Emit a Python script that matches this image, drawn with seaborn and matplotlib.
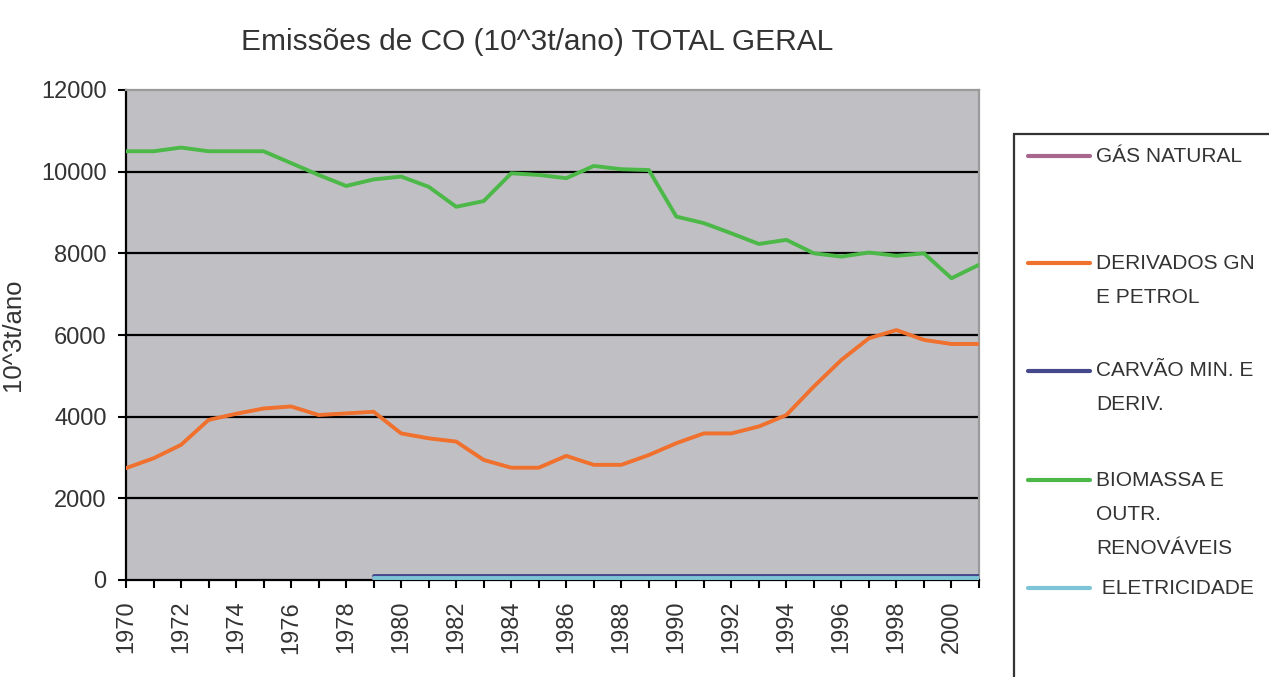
import pandas as pd
import matplotlib.pyplot as plt
from matplotlib.lines import Line2D
from matplotlib.patches import Rectangle
import seaborn as sns

# dados (10^3 t/ano)
anos = list(range(1970, 2002))
biomassa = [10500, 10500, 10590, 10500, 10500, 10500, 10210, 9920, 9650, 9810,
            9880, 9630, 9140, 9280, 9960, 9920, 9840, 10140, 10060, 10040,
            8900, 8740, 8490, 8230, 8330, 8000, 7920, 8020, 7940, 8000,
            7390, 7720]
derivados = [2740, 2980, 3310, 3920, 4070, 4200, 4250, 4040, 4080, 4120,
             3590, 3470, 3390, 2940, 2750, 2750, 3040, 2820, 2820, 3060,
             3350, 3590, 3590, 3760, 4040, 4740, 5390, 5920, 6120, 5880,
             5780, 5780]
carvao = [None, None, None, None, None, None, None, None, None, 100,
          100, 100, 100, 100, 100, 100, 100, 100, 100, 100,
          100, 100, 100, 100, 100, 100, 100, 100, 100, 100,
          100, 100]
gas_natural = [None, None, None, None, None, None, None, None, None, 20,
               20, 20, 20, 20, 20, 20, 20, 20, 20, 20,
               20, 20, 20, 20, 20, 20, 20, 20, 20, 20,
               20, 20]
eletricidade = [None, None, None, None, None, None, None, None, None, 40,
                40, 40, 40, 40, 40, 40, 40, 40, 40, 40,
                40, 40, 40, 40, 40, 40, 40, 40, 40, 40,
                40, 40]

series = ["GÁS NATURAL", "DERIVADOS GN E PETROL", "CARVÃO MIN. E DERIV.",
          "BIOMASSA E OUTR. RENOVÁVEIS", "ELETRICIDADE"]
rotulos = [["GÁS NATURAL"], ["DERIVADOS GN", "E PETROL"], ["CARVÃO MIN. E", "DERIV."],
           ["BIOMASSA E", "OUTR.", "RENOVÁVEIS"], [" ELETRICIDADE"]]
cores = ["#a8678f", "#f0702e", "#46488c", "#4cb848", "#7cc4d6"]

df = pd.DataFrame({"ano": anos, series[0]: gas_natural, series[1]: derivados,
                   series[2]: carvao, series[3]: biomassa, series[4]: eletricidade})
df = df.melt(id_vars="ano", var_name="serie", value_name="valor").dropna()
df["valor"] = df["valor"].astype(float)

sns.set_style("white")
plt.rcParams['font.family'] = ['Liberation Sans', 'DejaVu Sans']

W, H = 1269, 677
fig = plt.figure(figsize=(W / 100, H / 100), dpi=100)
ax = fig.add_axes([126 / W, 1 - 580 / H, (979 - 126) / W, 490 / H])
ax.set_facecolor("#c0c0c4")

# linhas de grade
for v in range(2000, 12000, 2000):
    ax.axhline(v, color="black", lw=1.6, zorder=1)

sns.lineplot(data=df, x="ano", y="valor", hue="serie", hue_order=series,
             palette=dict(zip(series, cores)), linewidth=2.8, legend=False,
             ax=ax, zorder=3)

ax.set_xlim(1970, 2001)
ax.set_ylim(0, 12000)
ax.set_yticks(range(0, 12001, 2000))
ax.set_xticks(anos)
ax.set_xticklabels([str(a) if a % 2 == 0 else "" for a in anos], rotation=90)
ax.tick_params(axis="both", labelsize=17, length=6, width=1.5, color="black",
               labelcolor="#333333", direction="out", pad=8)
ax.tick_params(axis="x", bottom=True, pad=9)
ax.tick_params(axis="y", left=True)
ax.set_xlabel("")
ax.set_ylabel("10^3t/ano", fontsize=18.5, color="#333333")
ax.yaxis.set_label_coords(-0.118, 0.5)

for s in ["left", "bottom"]:
    ax.spines[s].set_color("black")
    ax.spines[s].set_linewidth(1.6)
for s in ["top", "right"]:
    ax.spines[s].set_color("#9a9a9a")
    ax.spines[s].set_linewidth(1.6)

fig.text(537 / W, 1 - 42 / H, "Emissões de CO (10^3t/ano) TOTAL GERAL",
         ha="center", va="center", fontsize=21.5, color="#333333")

# legenda (cortada na borda direita, como no original)
fig.add_artist(Rectangle((1014 / W, -0.1), 0.5, 0.1 + 1 - 134 / H,
                         transform=fig.transFigure, fill=False,
                         edgecolor="#333333", lw=1.6))
y_entradas = [156, 263, 371, 480, 588]
for cor, linhas, y in zip(cores, rotulos, y_entradas):
    fig.add_artist(Line2D([1028 / W, 1090 / W], [1 - y / H, 1 - y / H],
                          transform=fig.transFigure, color=cor, lw=3))
    for i, txt in enumerate(linhas):
        fig.text(1096 / W, 1 - (y + 34 * i) / H, txt, ha="left", va="center",
                 fontsize=15, color="#333333")

fig.savefig("out.png", dpi=100)
